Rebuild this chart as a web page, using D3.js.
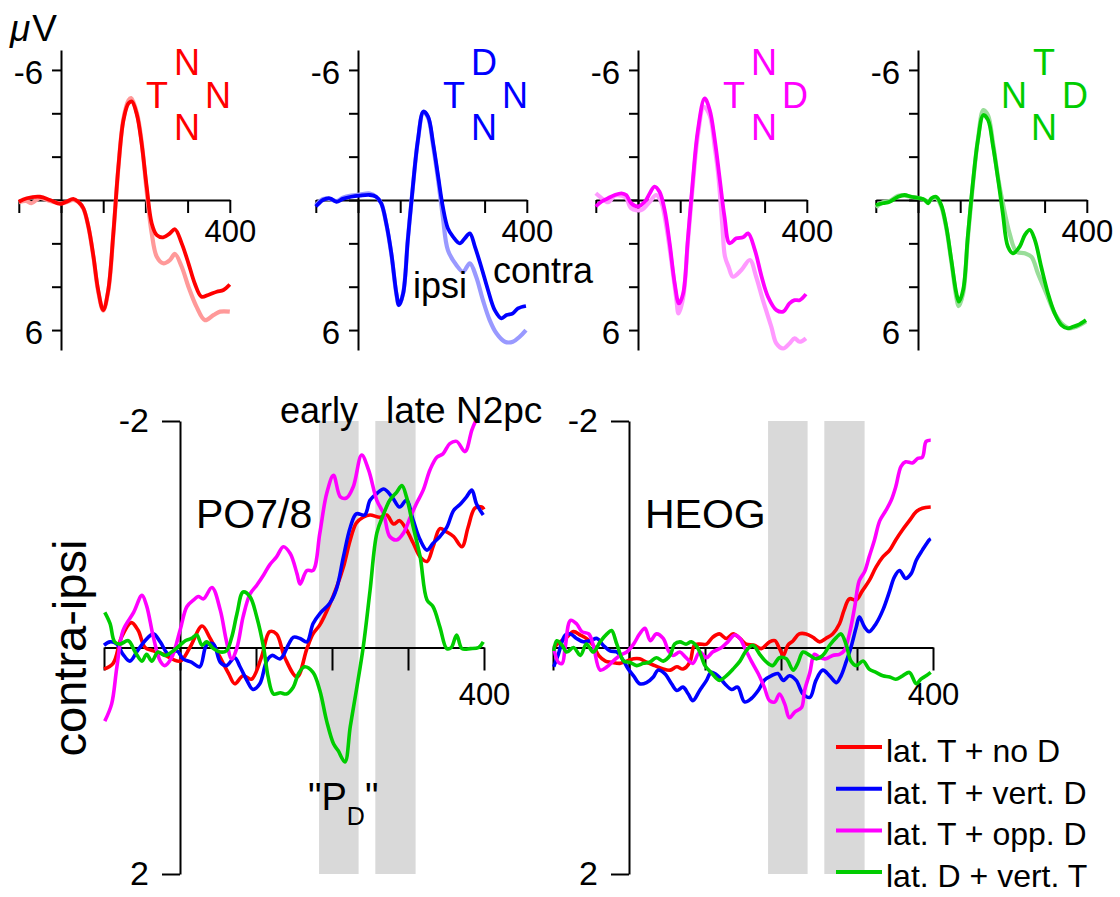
<!DOCTYPE html>
<html>
<head>
<meta charset="utf-8">
<script src="https://cdn.jsdelivr.net/npm/d3@7"></script>
<style>
  body { margin: 0; background: #fff; }
  text { font-family: "Liberation Sans", Arial, sans-serif; fill: #000; }
</style>
</head>
<body>
<div id="my_dataviz"></div>
<script>
// ---- data: [ms, microvolts] pairs ----

// top row: dark = one hemisphere, light = the other
var redDark = [[-100,0.08],[-81,-0.08],[-50,-0.15],[-26,0],[-2,0.18],[13,0.08],[29,-0.05],[41,0.08],[53,0.38],[65,1.23],[77,2.62],[88,4.15],[100,5.08],[112,4.15],[124,1.54],[136,-1.54],[148,-3.69],[160,-4.46],[168,-4.54],[180,-3.92],[191,-2.62],[203,-0.62],[215,1.08],[227,1.62],[242,1.72],[258,1.54],[270,1.35],[286,2.0],[302,2.92],[317,3.85],[333,4.46],[349,4.38],[369,4.23],[385,4.15],[400,3.9]];
var redLight = [[-100,0.1],[-81,0.05],[-70,0.15],[-50,-0.1],[-26,0.05],[-2,0.15],[13,0.1],[29,0],[41,0.1],[53,0.4],[65,1.25],[77,2.65],[88,4.2],[100,5.1],[112,4.2],[124,1.6],[136,-1.5],[148,-3.75],[160,-4.6],[166,-4.7],[180,-4.0],[191,-2.7],[203,-0.4],[215,1.54],[227,2.62],[242,2.92],[258,2.77],[270,2.49],[286,3.08],[302,4.0],[321,4.92],[341,5.54],[361,5.31],[377,5.15],[400,5.15]];
var blueDark = [[-100,0.3],[-83,0],[-67,-0.08],[-51,0.08],[-36,-0.05],[-16,-0.15],[4,-0.2],[28,-0.23],[43,-0.15],[55,0.15],[67,1.08],[79,2.46],[91,4.31],[97,4.85],[107,4.31],[118,1.85],[130,-0.62],[142,-2.77],[155,-4.08],[166,-3.85],[178,-2.62],[190,-1.08],[201,0.31],[213,1.31],[225,1.69],[241,2.0],[253,1.77],[265,1.54],[277,2.15],[292,3.08],[308,4.15],[324,5.08],[340,5.46],[352,5.31],[367,5.23],[379,5.0],[398,4.89]];
var blueLight = [[-100,0.25],[-83,-0.05],[-67,-0.05],[-51,0.05],[-36,-0.1],[-16,-0.2],[4,-0.25],[28,-0.3],[43,-0.15],[55,0.15],[67,1.1],[79,2.5],[91,4.35],[97,4.85],[107,4.3],[118,1.85],[130,-0.6],[142,-2.75],[155,-4.05],[166,-3.8],[178,-2.5],[190,-0.9],[201,0.77],[213,2.31],[233,3.0],[249,3.31],[265,2.92],[280,3.54],[296,4.62],[312,5.54],[328,6.15],[348,6.54],[367,6.54],[383,6.31],[398,6.0]];
var magDark = [[-100,0.3],[-87,0.08],[-71,-0.08],[-55,-0.23],[-39,-0.31],[-28,-0.23],[-16,0.15],[0,0.3],[16,0.08],[28,-0.31],[39,-0.62],[51,-0.38],[63,0.46],[75,2.0],[87,3.85],[97,4.77],[107,4.31],[118,1.85],[130,-0.92],[142,-3.23],[158,-4.69],[170,-4.15],[182,-2.77],[194,-0.92],[205,0.77],[217,2.0],[233,1.77],[249,1.72],[261,1.54],[277,2.31],[293,3.54],[308,4.46],[328,5.08],[344,5.15],[359,4.77],[371,4.62],[383,4.62],[398,4.34]];
var magLight = [[-100,-0.31],[-87,-0.1],[-71,0.1],[-55,-0.2],[-39,-0.2],[-28,-0.1],[-16,0.38],[8,0.46],[28,0.08],[43,-0.23],[55,0.1],[67,1.2],[79,2.8],[91,4.6],[96,5.23],[107,4.5],[118,2.0],[130,-0.7],[142,-3.0],[156,-4.3],[170,-3.9],[182,-2.4],[190,-1.2],[200,1.2],[206,2.6],[215,3.1],[225,3.54],[245,3.23],[265,2.77],[280,3.54],[296,4.62],[316,5.85],[328,6.62],[344,6.85],[359,6.62],[371,6.38],[383,6.54],[398,6.38]];
var greenDark = [[-100,0.23],[-83,0.15],[-67,0.08],[-47,-0.15],[-32,-0.23],[-16,-0.15],[4,-0.08],[16,0],[24,0.15],[32,-0.08],[43,-0.15],[55,0.23],[67,1.23],[79,2.77],[91,4.31],[97,4.69],[107,4.15],[118,1.69],[130,-0.77],[142,-2.77],[155,-3.92],[166,-3.69],[178,-2.46],[190,-0.92],[201,0.62],[213,2.15],[225,2.46],[241,2.15],[253,1.62],[265,1.38],[277,1.85],[292,3.08],[308,4.31],[324,5.23],[340,5.77],[355,5.92],[367,5.85],[379,5.77],[398,5.54]];
var greenLight = [[-100,0.35],[-83,0.1],[-67,0.05],[-47,-0.2],[-32,-0.2],[-16,-0.15],[4,-0.08],[16,0],[24,0.1],[32,-0.05],[43,-0.1],[55,0.3],[67,1.3],[79,2.85],[91,4.5],[96,4.9],[107,4.3],[118,1.8],[130,-0.7],[142,-2.8],[155,-4.15],[166,-3.9],[178,-2.6],[190,-1.0],[201,0.15],[217,1.54],[233,2.38],[253,2.46],[269,2.62],[284,3.38],[304,4.31],[324,5.23],[340,5.69],[359,5.92],[375,5.85],[398,5.6]];

// bottom row: contra-ipsi difference waves
var poRed = [[-100,0.19],[-88,0.14],[-77,-0.09],[-64,-0.22],[-55,-0.15],[-46,0],[-35,0.03],[-22,0.06],[0,0.12],[13,0],[29,-0.19],[39,-0.09],[53,0.09],[64,0.23],[72,0.32],[83,0.25],[94,0.28],[107,0.09],[118,-0.14],[127,-0.12],[138,0.09],[154,0.26],[167,0.01],[175,-0.12],[184,-0.2],[197,-0.38],[206,-0.53],[215,-0.71],[224,-0.95],[232,-1.1],[241,-1.15],[250,-1.17],[263,-1.15],[272,-1.17],[281,-1.09],[289,-1.12],[298,-1.04],[307,-0.92],[316,-0.8],[325,-0.76],[333,-0.89],[342,-1.05],[351,-1.02],[360,-0.98],[371,-0.89],[379,-1.06],[388,-1.23],[397,-1.24],[400,-1.22]];
var poBlue = [[-100,-0.02],[-92,-0.05],[-83,-0.03],[-75,0.06],[-66,0.12],[-57,0.04],[-46,-0.06],[-35,-0.12],[-26,-0.05],[-15,0.06],[-4,0.03],[4,0.1],[15,0.13],[26,0.17],[35,-0.02],[44,-0.03],[53,0.13],[61,0.16],[72,0.09],[79,0.17],[88,0.29],[96,0.37],[105,0.32],[114,0.12],[121,0.07],[132,0.1],[143,-0.03],[149,-0.09],[158,-0.08],[167,-0.05],[175,-0.21],[184,-0.3],[197,-0.39],[206,-0.52],[215,-0.8],[224,-1.06],[232,-1.18],[243,-1.17],[250,-1.3],[259,-1.36],[268,-1.4],[279,-1.33],[289,-1.24],[298,-1.3],[307,-1.12],[316,-0.95],[325,-0.86],[333,-0.92],[342,-0.98],[351,-1.06],[360,-1.21],[368,-1.26],[377,-1.33],[384,-1.39],[390,-1.27],[399,-1.17]];
var poMag = [[-99,0.65],[-90,0.5],[-83,0.17],[-75,-0.15],[-61,-0.31],[-50,-0.46],[-44,-0.37],[-35,-0.09],[-26,0.12],[-20,0.16],[-11,0.09],[0,-0.15],[9,-0.36],[18,-0.42],[24,-0.45],[31,-0.43],[42,-0.53],[53,-0.33],[61,-0.06],[68,0.1],[75,0],[83,-0.27],[92,-0.47],[101,-0.55],[110,-0.64],[118,-0.73],[127,-0.8],[136,-0.89],[145,-0.83],[154,-0.65],[158,-0.56],[167,-0.68],[175,-0.68],[184,-1.01],[193,-1.36],[202,-1.52],[211,-1.33],[219,-1.32],[228,-1.42],[239,-1.7],[248,-1.57],[259,-1.3],[268,-1.18],[276,-0.98],[285,-0.95],[294,-1.01],[303,-1.15],[311,-1.27],[320,-1.39],[329,-1.57],[338,-1.68],[346,-1.71],[355,-1.8],[364,-1.82],[375,-1.73],[384,-1.92],[389,-2.0]];
var poGreen = [[-99,-0.31],[-92,-0.21],[-86,-0.05],[-79,-0.03],[-68,-0.06],[-59,0.04],[-50,0.12],[-44,0.06],[-37,0.12],[-29,0.04],[-20,0.07],[-11,0.04],[0,-0.02],[7,-0.06],[15,-0.08],[22,-0.11],[29,-0.02],[35,-0.05],[44,0.01],[53,0.04],[61,0.03],[68,-0.09],[75,-0.3],[83,-0.49],[92,-0.45],[101,-0.27],[110,0],[116,0.26],[123,0.41],[132,0.4],[140,0.41],[149,0.35],[156,0.23],[164,0.17],[175,0.22],[184,0.38],[193,0.65],[202,0.85],[208,0.91],[217,1.01],[224,0.7],[232,0.38],[241,0],[250,-0.5],[259,-1.01],[268,-1.18],[276,-1.3],[285,-1.37],[292,-1.43],[298,-1.33],[307,-1.06],[316,-0.8],[325,-0.42],[333,-0.36],[342,-0.18],[351,0.01],[357,0],[364,-0.11],[371,0.01],[382,0.01],[393,0],[399,-0.05]];

var heogRed = [[-99,0],[-91,-0.05],[-82,-0.09],[-73,-0.14],[-64,-0.11],[-56,-0.08],[-47,-0.02],[-40,0.07],[-31,0.12],[-23,0.13],[-12,0.14],[-3,0.12],[6,0.1],[14,0.1],[23,0.13],[34,0.16],[45,0.19],[54,0.2],[63,0.17],[71,0.19],[80,0.13],[86,-0.02],[93,-0.03],[102,-0.03],[110,-0.09],[119,-0.12],[128,-0.08],[137,-0.12],[146,-0.08],[154,-0.03],[165,-0.02],[174,0.01],[185,-0.05],[192,-0.06],[198,0.01],[203,0.07],[209,-0.02],[216,-0.06],[224,-0.12],[233,-0.12],[242,-0.09],[251,-0.05],[259,-0.08],[268,-0.12],[277,-0.21],[283,-0.33],[290,-0.43],[299,-0.42],[307,-0.5],[316,-0.59],[325,-0.71],[334,-0.8],[343,-0.86],[351,-0.95],[360,-1.04],[369,-1.12],[378,-1.2],[386,-1.23],[397,-1.24]];
var heogBlue = [[-99,0.17],[-93,0.06],[-84,-0.11],[-77,-0.12],[-69,-0.08],[-60,-0.05],[-51,-0.06],[-42,-0.08],[-34,-0.02],[-25,0.03],[-16,0.04],[-7,0.12],[-1,0.19],[6,0.25],[14,0.32],[23,0.31],[32,0.26],[38,0.2],[47,0.23],[56,0.32],[63,0.38],[71,0.35],[78,0.41],[84,0.47],[93,0.38],[102,0.29],[108,0.22],[117,0.25],[126,0.32],[135,0.37],[143,0.35],[152,0.48],[161,0.45],[170,0.38],[178,0.29],[187,0.25],[196,0.23],[203,0.29],[211,0.25],[220,0.29],[229,0.41],[238,0.44],[246,0.29],[255,0.2],[264,0.25],[273,0.31],[279,0.25],[286,0.12],[292,0],[299,-0.18],[303,-0.27],[310,-0.18],[316,-0.14],[325,-0.21],[334,-0.33],[343,-0.5],[349,-0.62],[356,-0.68],[364,-0.61],[371,-0.65],[378,-0.77],[386,-0.86],[395,-0.95],[397,-0.96]];
var heogMag = [[-99,0],[-93,0.13],[-88,0.14],[-84,0],[-77,-0.24],[-69,-0.21],[-62,-0.14],[-53,-0.12],[-47,-0.02],[-38,0.2],[-29,0.17],[-21,0.12],[-12,0.07],[-3,0.04],[6,-0.03],[14,-0.12],[21,-0.17],[28,-0.06],[36,-0.12],[45,-0.08],[52,0.03],[58,0.07],[67,0.04],[75,0.09],[84,0.14],[93,0.04],[102,0.09],[110,0.04],[122,0],[130,-0.05],[139,-0.11],[146,-0.08],[152,0],[161,0.12],[170,0.23],[178,0.35],[185,0.47],[192,0.48],[198,0.41],[205,0.5],[211,0.62],[218,0.57],[227,0.53],[231,0.38],[238,0.22],[244,0.06],[251,0.09],[259,0.1],[268,0.07],[277,0.06],[283,0.03],[290,-0.12],[297,-0.36],[303,-0.59],[310,-0.67],[316,-0.8],[323,-0.95],[330,-1.12],[338,-1.21],[345,-1.3],[351,-1.42],[358,-1.6],[364,-1.64],[373,-1.63],[380,-1.67],[386,-1.68],[391,-1.82],[397,-1.83]];
var heogGreen = [[-99,0.03],[-95,-0.06],[-88,-0.02],[-82,0.04],[-73,0],[-64,0.07],[-56,-0.03],[-47,0.04],[-38,-0.05],[-29,-0.12],[-23,-0.15],[-16,-0.03],[-7,0.12],[1,0.13],[10,0.16],[19,0.14],[27,0.13],[36,0.09],[45,0.12],[54,0.07],[60,-0.03],[67,-0.05],[75,-0.03],[82,-0.05],[91,0.01],[100,0.16],[108,0.22],[119,0.29],[128,0.25],[137,0.19],[146,0.12],[154,0.03],[163,-0.02],[172,0.06],[181,0.13],[189,0.16],[198,0.09],[207,0.1],[216,0.2],[222,0.14],[229,0.04],[238,0.07],[246,0.1],[255,0.07],[264,-0.02],[273,-0.09],[279,-0.12],[286,-0.02],[292,0.12],[299,0.16],[308,0.12],[316,0.19],[325,0.22],[334,0.25],[343,0.26],[351,0.28],[360,0.25],[369,0.22],[378,0.32],[384,0.28],[391,0.25],[397,0.22]];

// analysis windows (ms) and labels
var windows = [[183, 235], [257, 310]];
var legendLabels = ["lat. T + no D", "lat. T + vert. D", "lat. T + opp. D", "lat. D + vert. T"];
var colors = ["#ff0000", "#0000ff", "#ff00ff", "#00cc00"];
var lightColors = ["#ff9999", "#9999ff", "#ff99ff", "#99dd99"];
// search display letters: top, left, right, bottom
var displays = [["N","T","N","N"], ["D","T","N","N"], ["N","T","D","N"], ["T","N","D","N"]];

var topDark = [redDark, blueDark, magDark, greenDark];
var topLight = [redLight, blueLight, magLight, greenLight];
var poSeries = [poRed, poBlue, poMag, poGreen];
var heogSeries = [heogRed, heogBlue, heogMag, heogGreen];

// ---- svg ----
var svg = d3.select("#my_dataviz")
    .append("svg")
    .attr("width", 1120)
    .attr("height", 897)
    .style("background", "#fff");

function styleAxis(g, fontSize) {
    g.attr("font-family", '"Liberation Sans", Arial, sans-serif')
        .attr("font-size", fontSize);
    g.select(".domain").attr("stroke", "#000").attr("stroke-width", 2);
    g.selectAll(".tick line").attr("stroke", "#000").attr("stroke-width", 2);
    g.selectAll(".tick text").attr("fill", "#000");
}

// ---- top row: four ERP panels ----
var topAxisX = [61, 358, 638, 918];

topAxisX.forEach(function(ax, i) {
    var x = d3.scaleLinear().domain([-100, 400]).range([ax - 42.2, ax + 168.8]);
    var y = d3.scaleLinear().domain([-6.92, 6.92]).range([50, 350]);
    var g = svg.append("g");

    // x axis along zero
    g.append("g")
        .attr("transform", "translate(0," + y(0) + ")")
        .call(d3.axisBottom(x).tickValues([-100, 0, 100, 200, 300, 400])
            .tickSize(13).tickSizeOuter(0).tickPadding(7)
            .tickFormat(function(d){ return d === 400 ? "400" : ""; }))
        .call(styleAxis, 31);

    // y axis, negative up
    g.append("g")
        .attr("transform", "translate(" + ax + ",0)")
        .call(d3.axisLeft(y).tickValues([-6, -4, -2, 0, 2, 4, 6])
            .tickSize(9).tickSizeOuter(0).tickPadding(9)
            .tickFormat(function(d){ return Math.abs(d) === 6 ? String(d) : ""; }))
        .call(styleAxis, 33)
        .selectAll(".tick text").attr("dy", "0.42em");

    var line = d3.line()
        .x(function(d){ return x(d[0]); })
        .y(function(d){ return y(d[1]); })
        .curve(d3.curveCatmullRom);

    g.append("path").datum(topLight[i])
        .attr("d", line).attr("fill", "none")
        .attr("stroke", lightColors[i]).attr("stroke-width", 4.2);
    g.append("path").datum(topDark[i])
        .attr("d", line).attr("fill", "none")
        .attr("stroke", colors[i]).attr("stroke-width", 3.8);

    // the search display
    var pos = [[126, 75], [96, 108], [157, 108], [126, 140]];
    g.selectAll("letters")
        .data(displays[i])
        .enter()
        .append("text")
        .attr("x", function(d, k){ return ax + pos[k][0]; })
        .attr("y", function(d, k){ return pos[k][1]; })
        .attr("text-anchor", "middle")
        .attr("font-size", 36)
        .style("fill", colors[i])
        .text(function(d){ return d; });
});

// unit label
var uv = svg.append("text").attr("x", 10).attr("y", 41).attr("font-size", 37);
uv.append("tspan").attr("font-style", "italic").text("\u03bc");
uv.append("tspan").attr("dx", 2).text("V");

svg.append("text").attr("x", 413).attr("y", 298).attr("font-size", 36).text("ipsi");
svg.append("text").attr("x", 493).attr("y", 283).attr("font-size", 36).text("contra");

// ---- bottom row: difference waves ----
var yB = d3.scaleLinear().domain([-2, 2]).range([421, 874]);

function diffPanel(x0, series, title) {
    var x = d3.scaleLinear().domain([-100, 400]).range([x0, x0 + 380]);
    var g = svg.append("g");

    // grey analysis windows
    g.selectAll("bands")
        .data(windows)
        .enter()
        .append("rect")
        .attr("x", function(d){ return x(d[0]); })
        .attr("width", function(d){ return x(d[1]) - x(d[0]); })
        .attr("y", yB(-2))
        .attr("height", yB(2) - yB(-2))
        .attr("fill", "#d9d9d9");

    g.append("g")
        .attr("transform", "translate(0," + yB(0) + ")")
        .call(d3.axisBottom(x).tickValues([-100, 0, 100, 200, 300, 400])
            .tickSize(23).tickSizeOuter(0).tickPadding(12)
            .tickFormat(function(d){ return d === 400 ? "400" : ""; }))
        .call(styleAxis, 31);

    g.append("g")
        .attr("transform", "translate(" + x(0) + ",0)")
        .call(d3.axisLeft(yB).tickValues([-2, 2])
            .tickSize(18).tickSizeOuter(0).tickPadding(13)
            .tickFormat(function(d){ return String(d); }))
        .call(styleAxis, 34);

    var line = d3.line()
        .x(function(d){ return x(d[0]); })
        .y(function(d){ return yB(d[1]); })
        .curve(d3.curveCatmullRom);

    g.selectAll("waves")
        .data(series)
        .enter()
        .append("path")
        .attr("d", line)
        .attr("fill", "none")
        .attr("stroke", function(d, k){ return colors[k]; })
        .attr("stroke-width", 3.6);

    g.append("text")
        .attr("x", x(0) + 16).attr("y", 528)
        .attr("font-size", 41)
        .text(title);
    return x;
}

var xPO = diffPanel(104, poSeries, "PO7/8");
var xHE = diffPanel(553, heogSeries, "HEOG");

svg.append("text").attr("x", 280).attr("y", 423).attr("font-size", 36).text("early");
svg.append("text").attr("x", 386).attr("y", 423).attr("font-size", 37).text("late N2pc");

// "P_D" label under the green dip
var pd = svg.append("text").attr("x", 308).attr("y", 810).attr("font-size", 38);
pd.append("tspan").text("\"P");
pd.append("tspan").attr("font-size", 25).attr("dy", 15).text("D");
pd.append("tspan").attr("dy", -15).text("\"");

svg.append("text")
    .attr("transform", "translate(86,648) rotate(-90)")
    .attr("text-anchor", "middle")
    .attr("font-size", 47)
    .text("contra-ipsi");

// legend
var legend = svg.selectAll("legend")
    .data(legendLabels)
    .enter()
    .append("g")
    .attr("transform", function(d, i){ return "translate(836," + (747 + i * 41.7) + ")"; });
legend.append("line")
    .attr("x1", 0).attr("x2", 46)
    .attr("stroke", function(d, i){ return colors[i]; })
    .attr("stroke-width", 4);
legend.append("text")
    .attr("x", 50).attr("y", 15)
    .attr("font-size", 32)
    .text(function(d){ return d; });
</script>
</body>
</html>
